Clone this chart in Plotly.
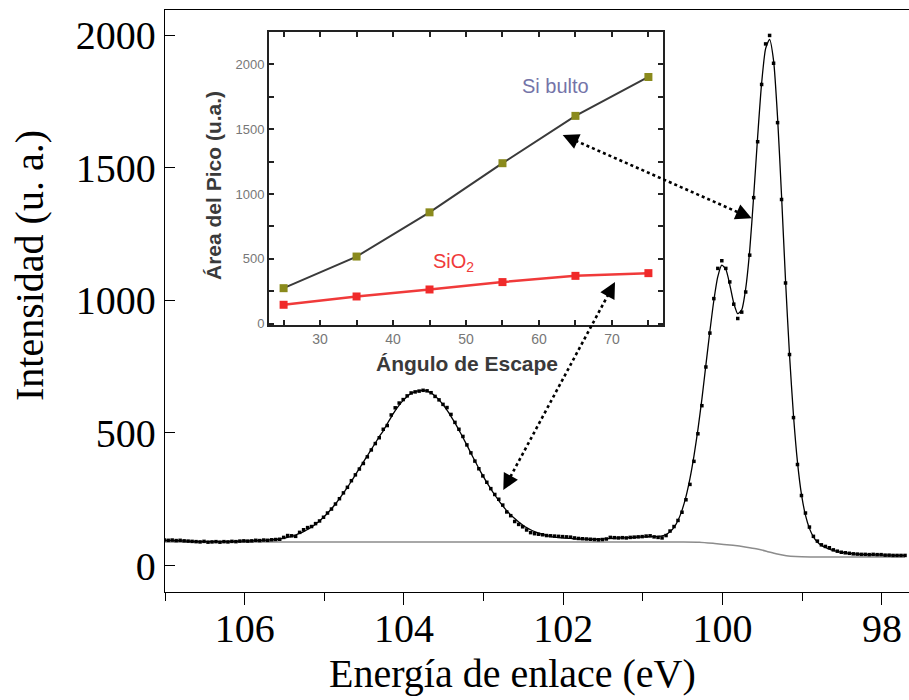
import plotly.graph_objects as go

# ---- Si 2p spectrum (binding energy grid and measured counts) ----
ENERGY_START = 107.01
ENERGY_STEP = 0.05

counts = [
    96, 95, 96, 94, 95, 93, 92, 91, 90, 89,
    91, 88, 89, 90, 88, 90, 89, 91, 90, 92,
    93, 92, 93, 95, 94, 96, 95, 97, 98, 99,
    106, 113, 112, 110, 125, 135, 143, 147, 158, 168,
    182, 198, 213, 232, 252, 274, 295, 320, 342, 364,
    385, 410, 436, 460, 482, 514, 528, 568, 595, 613,
    626, 640, 651, 655, 658, 661, 659, 652, 638, 625,
    608, 596, 570, 540, 514, 487, 455, 425, 394, 365,
    338, 314, 290, 268, 250, 228, 202, 188, 166, 155,
    146, 134, 124, 120, 118, 116, 113, 112, 111, 110,
    109, 108, 107, 104, 102, 101, 100, 99, 98, 97,
    98, 100, 106, 105, 104, 105, 104, 106, 107, 108,
    109, 111, 112, 108, 106,
    104, 113, 130, 147, 170, 201, 248, 306, 393, 497,
    603, 749, 877, 1007, 1121, 1150, 1121, 1070, 986, 932,
    956, 1032, 1171, 1388, 1599, 1815, 1968, 2000, 1895, 1671,
    1381, 1066, 796, 558, 381, 264, 198, 145, 110, 92,
    78, 72, 67, 59, 54, 50, 48, 46, 44, 43,
    42, 42, 41, 42, 41, 41, 39, 39, 38, 38,
    38, 38,
]

# fitted envelope on the same energy grid
fit = [
    95, 95, 94, 94, 93, 93, 92, 91, 90, 90,
    90, 90, 90, 90, 90, 90, 90, 91, 91, 92,
    92, 93, 93, 94, 95, 95, 96, 97, 98, 100,
    103, 106, 110, 115, 121, 128, 136, 145, 156, 168,
    182, 197, 214, 232, 252, 273, 295, 318, 342, 366,
    390, 414, 438, 462, 486, 508, 535, 560, 584, 605,
    623, 638, 649, 656, 660, 661, 658, 651, 640, 625,
    607, 586, 563, 538, 511, 483, 454, 424, 395, 366,
    339, 313, 289, 266, 245, 225, 207, 191, 177, 164,
    153, 143, 135, 128, 122, 117, 113, 110, 107, 105,
    104, 103, 102, 101, 100, 100, 99, 99, 99, 99,
    100, 101, 102, 103, 104, 104, 105, 105, 106, 107,
    108, 108, 109, 109, 110,
    112, 117, 127, 144, 170, 208, 260, 328, 413, 513,
    628, 756, 883, 1000, 1090, 1133, 1118, 1060, 990, 950,
    965, 1045, 1188, 1393, 1618, 1820, 1950, 1985, 1905, 1690,
    1395, 1075, 795, 565, 390, 268, 190, 140, 108, 88,
    76, 68, 62, 57, 53, 50, 48, 46, 44, 43,
    42, 41, 41, 40, 40, 40, 39, 39, 39, 38,
    38, 38,
]

# Shirley-type background
bg_energy = [107.01, 102.0, 101.0, 100.5, 100.29, 100.1, 99.87, 99.7, 99.58,
             99.45, 99.33, 99.2, 99.08, 98.9, 98.6, 97.71]
bg_counts = [89, 89, 89, 89, 88, 83, 76, 69, 63, 54, 44, 37, 34, 32.5, 32, 32]

# ---- inset: peak area vs escape angle ----
angle = [25, 35, 45, 55, 65, 75]
area_si_bulk = [274, 518, 859, 1238, 1603, 1903]
area_sio2 = [146, 210, 264, 321, 369, 390]

energy = [round(ENERGY_START - ENERGY_STEP * i, 2) for i in range(len(counts))]

W, H = 909, 700
ML, MR, MT, MB = 165, 0, 10, 108
PW, PH = W - ML - MR, H - MT - MB


def paper(xp, yp):
    """pixel position on the page -> paper coordinates"""
    return (xp - ML) / PW, (H - MB - yp) / PH


SERIF = "Liberation Serif, Times New Roman, serif"
SANS = "Liberation Sans, Arial, sans-serif"
BIG = 40

fig = go.Figure()

fig.add_trace(go.Scatter(
    x=bg_energy, y=bg_counts, mode="lines",
    line=dict(color="#8c8c8c", width=1.5, shape="spline", smoothing=0.6),
    hoverinfo="skip"))
fig.add_trace(go.Scatter(
    x=energy, y=fit, mode="lines",
    line=dict(color="black", width=1.3, shape="spline", smoothing=0.6)))
fig.add_trace(go.Scatter(
    x=energy, y=counts, mode="markers",
    marker=dict(symbol="square", size=3.5, color="black")))

fig.add_trace(go.Scatter(
    x=angle, y=area_si_bulk, mode="lines+markers", xaxis="x2", yaxis="y2",
    line=dict(color="#3a3a3a", width=2),
    marker=dict(symbol="square", size=8, color="#8a8a1c")))
fig.add_trace(go.Scatter(
    x=angle, y=area_sio2, mode="lines+markers", xaxis="x2", yaxis="y2",
    line=dict(color="#f03a3a", width=2.5),
    marker=dict(symbol="square", size=8, color="#f02a2a")))

ix0, iy0 = paper(269, 325)
ix1, iy1 = paper(663, 32)

fig.update_layout(
    width=W, height=H,
    margin=dict(l=ML, r=MR, t=MT, b=MB),
    paper_bgcolor="white", plot_bgcolor="white",
    showlegend=False,
    xaxis=dict(
        range=[107.0, 97.66], domain=[0, 1],
        tickmode="linear", tick0=0, dtick=2,
        ticks="outside", ticklen=12, tickwidth=1.3, tickcolor="black",
        minor=dict(tickmode="linear", tick0=0, dtick=1, ticks="outside",
                   ticklen=8, tickwidth=1.3, tickcolor="black"),
        showline=True, linecolor="black", linewidth=1.3, mirror=True,
        showgrid=False, zeroline=False, ticklabelstandoff=-11,
        tickfont=dict(family=SERIF, size=BIG, color="black")),
    yaxis=dict(
        range=[-100, 2096], domain=[0, 1],
        tickmode="linear", tick0=0, dtick=500,
        ticks="inside", ticklen=10, tickwidth=1.3, tickcolor="black",
        showline=True, linecolor="black", linewidth=1.3,
        showgrid=False, zeroline=False,
        tickfont=dict(family=SERIF, size=BIG, color="black")),
    xaxis2=dict(
        domain=[ix0, ix1], anchor="y2", range=[23, 77],
        tickmode="linear", tick0=0, dtick=10,
        ticks="inside", ticklen=5, tickwidth=2, tickcolor="#222",
        minor=dict(tickmode="linear", tick0=0, dtick=5, ticks="inside",
                   ticklen=5, tickwidth=2, tickcolor="#222"),
        showline=True, linecolor="#222", linewidth=2, mirror="ticks",
        showgrid=False, zeroline=False,
        tickfont=dict(family=SANS, size=14, color="#777")),
    yaxis2=dict(
        domain=[iy0, iy1], anchor="x2", range=[-10, 2250],
        tickmode="linear", tick0=0, dtick=500,
        ticks="inside", ticklen=5, tickwidth=2, tickcolor="#222",
        minor=dict(tickmode="linear", tick0=0, dtick=250, ticks="inside",
                   ticklen=5, tickwidth=2, tickcolor="#222"),
        showline=True, linecolor="#222", linewidth=2, mirror="ticks",
        showgrid=False, zeroline=False,
        tickfont=dict(family=SANS, size=13, color="#777")),
)

ann = []


def text_at(xp, yp, text, font, angle=0):
    x, y = paper(xp, yp)
    ann.append(dict(x=x, y=y, xref="paper", yref="paper", text=text,
                    showarrow=False, xanchor="center", yanchor="middle",
                    textangle=angle, font=font))


text_at(29, 266, "Intensidad (u. a.)", dict(family=SERIF, size=BIG, color="black"), -90)
text_at(512, 673, "Energía de enlace (eV)", dict(family=SERIF, size=BIG, color="black"))
text_at(467, 363, "<b>Ángulo de Escape</b>", dict(family=SANS, size=21, color="#3a3a3a"))
text_at(213, 186, "<b>Área del Pico (u.a.)</b>", dict(family=SANS, size=21, color="#3a3a3a"), -90)
text_at(555, 86, "Si bulto", dict(family=SANS, size=20, color="#7474a8"))
text_at(453, 262, "SiO<sub>2</sub>", dict(family=SANS, size=20, color="#f03a3a"))

# double-headed dotted arrows linking the inset curves to the peaks
arrows = [((562.7, 135.0), (751.7, 218.3)), ((615.0, 282.0), (503.3, 490.0))]
shapes = []
for (ax_, ay_), (bx_, by_) in arrows:
    dx, dy = bx_ - ax_, by_ - ay_
    n = (dx * dx + dy * dy) ** 0.5
    ux, uy = dx / n, dy / n
    p0 = paper(ax_ + 8 * ux, ay_ + 8 * uy)
    p1 = paper(bx_ - 8 * ux, by_ - 8 * uy)
    shapes.append(dict(type="line", xref="paper", yref="paper",
                       x0=p0[0], y0=p0[1], x1=p1[0], y1=p1[1],
                       line=dict(color="black", width=2.6, dash="dot")))
    for (tx, ty), s in (((ax_, ay_), 1), ((bx_, by_), -1)):
        x, y = paper(tx, ty)
        ann.append(dict(x=x, y=y, xref="paper", yref="paper", text="",
                        showarrow=True, arrowhead=2, arrowsize=1.6,
                        arrowwidth=2, arrowcolor="black",
                        ax=s * 13 * ux, ay=s * 13 * uy))

fig.update_layout(annotations=ann, shapes=shapes)

fig.write_html("out.html")
